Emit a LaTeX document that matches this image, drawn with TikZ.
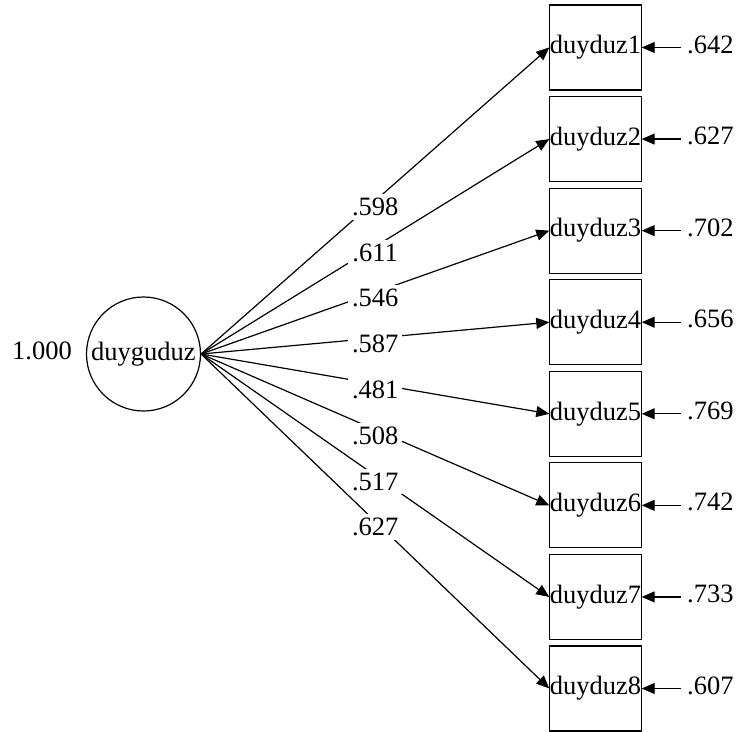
\documentclass[tikz,border=0pt]{standalone}
\usepackage{fontspec}
\setmainfont{Liberation Serif}
\usetikzlibrary{arrows.meta}
\begin{document}
\begin{tikzpicture}[x=1pt,y=-1pt,
  every node/.style={font=\fontsize{26.5}{30}\selectfont},
  obs/.style={draw,line width=1.2pt,minimum width=87pt,minimum height=85pt,inner sep=0pt},
  lat/.style={draw,circle,line width=1.2pt,minimum size=114pt,inner sep=0pt},
  path/.style={line width=1.2pt,-{Triangle[length=13pt,width=11pt]}},
  coef/.style={fill=white,inner sep=4pt,pos=0.5,yshift=-6pt},
  errlab/.style={anchor=west,inner sep=0pt}]
\useasboundingbox (0,0) rectangle (739,731);
\node[lat] (dz) at (143.5,354) {duyguduz};
\node[anchor=center] (var) at (42,351) {1.000};
\foreach \i/\c/\e in {1/.598/.642,2/.611/.627,3/.546/.702,4/.587/.656,5/.481/.769,6/.508/.742,7/.517/.733,8/.627/.607}{
  \pgfmathsetmacro{\yy}{47.5+91.57*(\i-1)}
  \node[obs] (b\i) at (595.5,\yy) {duyduz\i};
  \node[errlab] (e\i) at (687,\yy-3) {\e};
  \coordinate (c\i) at (681,\yy);
  \draw[path] (dz.east) -- (b\i.west) node[coef] {\c};
  \draw[path] (c\i) -- (b\i.east);
}
\end{tikzpicture}
\end{document}
